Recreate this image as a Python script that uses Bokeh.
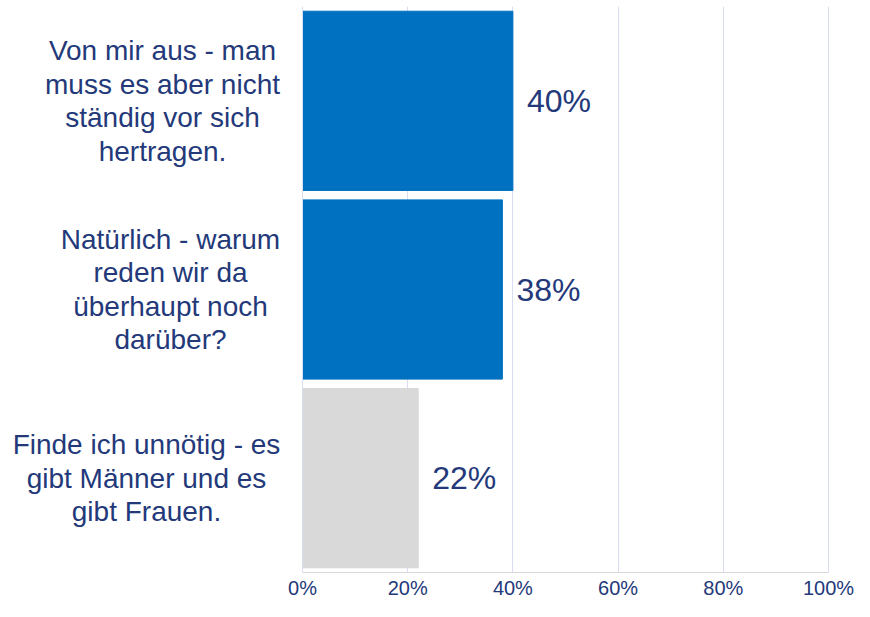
from bokeh.plotting import figure
from bokeh.models import ColumnDataSource, FixedTicker, LabelSet, NumeralTickFormatter, Range1d, Span
from bokeh.core.properties import value
from bokeh.embed import file_html
from bokeh.resources import INLINE

categories = [
    "Von mir aus - man\nmuss es aber nicht\nständig vor sich\nhertragen.",
    "Natürlich - warum\nreden wir da\nüberhaupt noch\ndarüber?",
    "Finde ich unnötig - es\ngibt Männer und es\ngibt Frauen.",
]
values = [0.40, 0.38, 0.22]
value_labels = ["40%", "38%", "22%"]
bar_colors = ["#0070C0", "#0070C0", "#D9D9D9"]
x_ticks = [0, 0.2, 0.4, 0.6, 0.8, 1.0]

# ---- layout (pixels) ----
W, H = 854, 601
AXIS_X = 302          # canvas x of the 0% line
SCALE_W = 526         # pixels from 0% to 100%
cat_label_offsets = [-140, -132, -156]   # centre of each category text block relative to 0% line
LINE_SPACING = 33.5

TEXT = "#23397A"
GRID = "#D9DDF0"
FONT = "Liberation Sans"

n = len(categories)
ypos = [n - 1 - i for i in range(n)]

src = ColumnDataSource(dict(y=ypos, v=values, lab=value_labels, color=bar_colors))

# one row per text line of each category label (lines centred within each block)
ly, ltxt, lxo, lyo = [], [], [], []
for i, cat in enumerate(categories):
    lines = cat.split("\n")
    m = len(lines)
    for k, line in enumerate(lines):
        ly.append(ypos[i])
        ltxt.append(line)
        lxo.append(cat_label_offsets[i])
        lyo.append(((m - 1) / 2 - k) * LINE_SPACING)
cat_src = ColumnDataSource(dict(y=ly, x=[0] * len(ly), txt=ltxt, xo=lxo, yo=lyo))

x_start = -AXIS_X / SCALE_W
x_end = (W - AXIS_X) / SCALE_W

p = figure(width=W, height=H, output_backend="svg", toolbar_location=None,
           x_range=Range1d(x_start, x_end), y_range=Range1d(-0.5, n - 0.5),
           min_border_left=0, min_border_right=0, min_border_top=6, min_border_bottom=0)
p.outline_line_color = None
p.background_fill_color = "white"
p.yaxis.visible = False

p.hbar(y="y", right="v", left=0, height=0.95, color="color", source=src)

p.add_layout(Span(location=0, dimension="height", line_color=GRID, line_width=1))

labels = LabelSet(x="v", y="y", text="lab", source=src, x_offset=14,
                  text_align="left", text_baseline="middle",
                  text_font_size="32px", text_font=value(FONT), text_color=TEXT,
                  background_fill_color="white", background_fill_alpha=1.0)
p.add_layout(labels)

cat_labels = LabelSet(x="x", y="y", text="txt", source=cat_src, x_offset="xo", y_offset="yo",
                      text_align="center", text_baseline="middle",
                      text_font_size="28px", text_font=value(FONT), text_color=TEXT)
p.add_layout(cat_labels)

# x axis
p.xaxis.ticker = FixedTicker(ticks=x_ticks)
p.xaxis.bounds = (0, 1)
p.xaxis.formatter = NumeralTickFormatter(format="0%")
p.xaxis.axis_line_color = "#D9D9D9"
p.xaxis.major_tick_line_color = None
p.xaxis.minor_tick_line_color = None
p.xaxis.major_tick_out = 0
p.xaxis.major_tick_in = 0
p.xaxis.minor_tick_out = 0
p.xaxis.minor_tick_in = 0
p.xaxis.axis_label_standoff = 0
p.xaxis.major_label_text_font = FONT
p.xaxis.major_label_text_font_size = "20px"
p.xaxis.major_label_text_color = TEXT
p.xaxis.major_label_standoff = 4

p.xgrid.ticker = FixedTicker(ticks=x_ticks)
p.xgrid.grid_line_color = GRID
p.ygrid.grid_line_color = None

open("out.html", "w").write(file_html(p, INLINE))
